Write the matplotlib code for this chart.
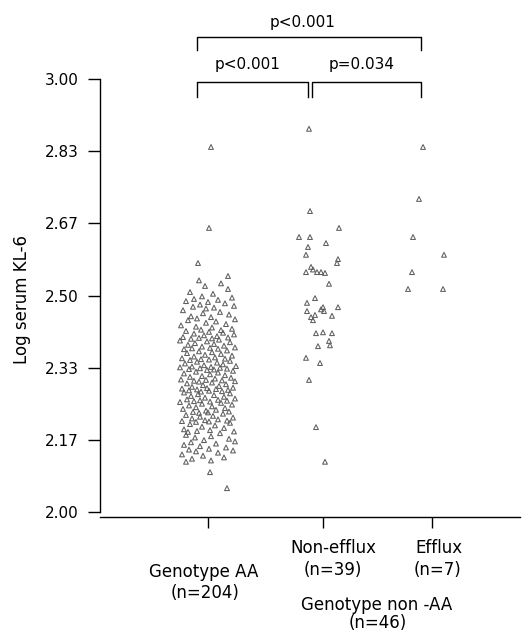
import matplotlib
matplotlib.use("Agg")
import matplotlib.pyplot as plt
import matplotlib.transforms as mtransforms
import numpy as np

plt.rcParams['font.family'] = ['DejaVu Sans']

# ---------------- data ----------------
groups = ["Genotype AA", "Non-efflux", "Efflux"]
yticks = [2.0, 2.1667, 2.3333, 2.5, 2.6667, 2.8333, 3.0]
ytick_labels = ["2.00", "2.17", "2.33", "2.50", "2.67", "2.83", "3.00"]

aa_values = [
    2.843, 2.656, 2.575, 2.545,
    2.535, 2.528, 2.522, 2.515,
    2.508, 2.504, 2.498, 2.495, 2.492, 2.490,
    2.487, 2.485, 2.482, 2.479, 2.476, 2.474, 2.472, 2.470,
    2.466, 2.462, 2.459, 2.456, 2.452, 2.450, 2.447, 2.445,
    2.443, 2.440, 2.437, 2.434, 2.431, 2.428, 2.426, 2.423, 2.421, 2.420,
    2.418, 2.416, 2.414, 2.412, 2.410, 2.408, 2.406, 2.404, 2.403, 2.402, 2.401, 2.400,
    2.398, 2.396, 2.394, 2.392, 2.390, 2.388, 2.386, 2.384, 2.382, 2.380, 2.379, 2.378, 2.377, 2.376,
    2.373, 2.371, 2.369, 2.367, 2.365, 2.363, 2.361, 2.359, 2.357, 2.355, 2.354, 2.353, 2.352, 2.351,
    2.349, 2.347, 2.345, 2.343, 2.341, 2.339, 2.337, 2.336, 2.335, 2.334, 2.333, 2.332, 2.331, 2.330, 2.329, 2.328,
    2.326, 2.324, 2.322, 2.320, 2.318, 2.316, 2.314, 2.312, 2.310, 2.308, 2.306, 2.305, 2.304, 2.303, 2.302, 2.301,
    2.299, 2.297, 2.295, 2.293, 2.291, 2.289, 2.287, 2.286, 2.285, 2.284, 2.283, 2.282, 2.281, 2.280, 2.279, 2.278,
    2.276, 2.274, 2.272, 2.270, 2.268, 2.266, 2.264, 2.262, 2.260, 2.259, 2.258, 2.257, 2.256, 2.255, 2.254,
    2.252, 2.250, 2.248, 2.246, 2.244, 2.242, 2.240, 2.238, 2.236, 2.234, 2.232, 2.231, 2.230, 2.229,
    2.227, 2.224, 2.222, 2.220, 2.218, 2.216, 2.214, 2.212, 2.211, 2.210, 2.209, 2.208,
    2.206, 2.203, 2.200, 2.197, 2.194, 2.191, 2.189, 2.187, 2.186, 2.185,
    2.182, 2.178, 2.175, 2.172, 2.169, 2.166, 2.163, 2.161,
    2.158, 2.155, 2.152, 2.149, 2.146, 2.144, 2.142, 2.140,
    2.137, 2.133, 2.130, 2.126, 2.123, 2.119, 2.116,
    2.092, 2.055,
]
aa_jitter = [
    3, 1, -10, 20,
    -9, 13, -3, 20,
    -18, 5, -6, 24, -14, 10,
    -22, 0, 17, -8, 26, -15, 6, -2,
    -25, 12, -5, 21, -17, 3, -11, 27,
    -20, 8, -2, 18, -27, -12, 4, 24, -7, 13,
    -22, 1, 15, -14, 26, -4, 9, -25, 20, -9, 4, -17,
    11, -28, -1, 22, -13, 6, -20, 16, -6, 27, 2, -16, 10, -24,
    19, -9, 4, -21, 13, -3, 24, -14, 7, -26, 17, -7, 1, -18,
    22, -11, 9, -23, 15, -4, 28, -16, 3, -28, 12, -8, 19, -19, 6, -1,
    25, -12, 10, -24, 2, 17, -6, -18, 23, 7, -27, -2, 14, -14, 27, -9,
    4, -21, 18, -5, 11, -16, 25, -1, -26, 8, -11, 20, -19, 1, 14, -7,
    -24, 22, -10, 6, -17, 16, -3, 27, -21, 10, -8, 19, -14, 2, -28,
    13, -6, 24, -19, 4, -12, 17, -25, 8, -2, 21, -15, 0, -9,
    15, -22, 5, -8, 25, -16, 10, -3, 19, -26, 1, -12,
    22, -18, 7, -6, 16, -24, 2, -11, 26, -20,
    12, -22, 3, -13, 21, -4, 27, -17,
    8, -24, -8, 18, 1, -19, 25, -12,
    10, -26, -5, 16, -16, 3, -22,
    2, 19,
]

ne_values = [2.885, 2.695, 2.656, 2.635, 2.635, 2.621, 2.612, 2.594, 2.584, 2.575,
             2.566, 2.554, 2.554, 2.554, 2.527, 2.494, 2.483, 2.464, 2.473, 2.464,
             2.473, 2.455, 2.453, 2.443, 2.413, 2.413, 2.395, 2.383, 2.385, 2.356,
             2.344, 2.305, 2.196, 2.116, 2.560, 2.552, 2.468, 2.450, 2.415]
ne_jitter = [-14, -13, 16, -24, -13, 3, -15, -17, 15, 14,
             -12, -17, -6, -2, 6, -8, -16, -16, 0, 1,
             15, -8, 9, -10, -7, 9, 6, -5, 7, -17,
             -3, -14, -7, 2, -10, 2, -2, -12, 0]

ef_values = [2.843, 2.723, 2.635, 2.594, 2.554, 2.515, 2.515]
ef_jitter = [-9, -13, -19, 12, -20, -24, 11]

# ---------------- layout ----------------
W, H = 532, 634
fig = plt.figure(figsize=(W / 100, H / 100), dpi=100)
ax = fig.add_axes([100 / W, 1 - 512 / H, 420 / W, (512 - 79) / H])

positions = [1.0, 2.0, 2.948]
px_per_unit = 115.0
ax.set_xlim(1 - 108 / px_per_unit, 2 + 197 / px_per_unit)
ax.set_ylim(2.0, 3.0)

marker_kw = dict(marker='^', s=12, facecolors='none', edgecolors='#5e5e5e',
                 linewidths=0.75, clip_on=False, zorder=3)
for pos, vals, jit in [(positions[0], aa_values, aa_jitter),
                       (positions[1], ne_values, ne_jitter),
                       (positions[2], ef_values, ef_jitter)]:
    xs = pos + np.asarray(jit) / px_per_unit
    ax.scatter(xs, vals, **marker_kw)

# spines
for s in ['top', 'right']:
    ax.spines[s].set_visible(False)
ax.spines['left'].set_bounds(2.0, 3.0)
ax.spines['bottom'].set_position(('outward', 3.6))
ax.spines['left'].set_linewidth(1.0)
ax.spines['bottom'].set_linewidth(1.0)

ax.set_yticks(yticks)
ax.set_yticklabels(ytick_labels)
ax.tick_params(axis='y', direction='out', length=8.6, width=1.0, labelsize=11, pad=6.5)
ax.set_xticks(positions)
ax.set_xticklabels([])
ax.tick_params(axis='x', direction='out', length=8, width=1.0)

# category labels
trans = mtransforms.blended_transform_factory(ax.transData, fig.transFigure)
def xd(px):
    # pixel x -> data x
    return 1 + (px - 208) / px_per_unit
def yf(py):
    return 1 - py / H

lab_kw = dict(transform=trans, ha='center', va='center', fontsize=12)
ax.text(xd(204), yf(572), "Genotype AA", **lab_kw)
ax.text(xd(205), yf(593), "(n=204)", **lab_kw)
ax.text(xd(333), yf(548), "Non-efflux", **lab_kw)
ax.text(xd(333), yf(570), "(n=39)", **lab_kw)
ax.text(xd(439), yf(548), "Efflux", **lab_kw)
ax.text(xd(438), yf(570), "(n=7)", **lab_kw)
ax.text(xd(377), yf(605), "Genotype non -AA", **lab_kw)
ax.text(xd(378), yf(623), "(n=46)", **lab_kw)

fig.text(22 / W, yf(300), "Log serum KL-6", rotation=90, ha='center', va='center', fontsize=12)

# significance brackets
def yv(py):
    return 3.0 + (79 - py) / 433.0
bk = dict(color='black', lw=1.0, clip_on=False, transform=ax.transData)
def bracket(x0, x1, ytop, ybot):
    ax.plot([xd(x0), xd(x0), xd(x1), xd(x1)], [yv(ybot), yv(ytop), yv(ytop), yv(ybot)], **bk)
bracket(197, 421, 37, 50)
bracket(197, 308, 82, 97)
bracket(312, 421, 82, 97)
ax.text(xd(303), yv(22), "p<0.001", ha='center', va='center', fontsize=11, clip_on=False)
ax.text(xd(248), yv(65), "p<0.001", ha='center', va='center', fontsize=11, clip_on=False)
ax.text(xd(362), yv(65), "p=0.034", ha='center', va='center', fontsize=11, clip_on=False)

fig.savefig("out.png", dpi=100)
